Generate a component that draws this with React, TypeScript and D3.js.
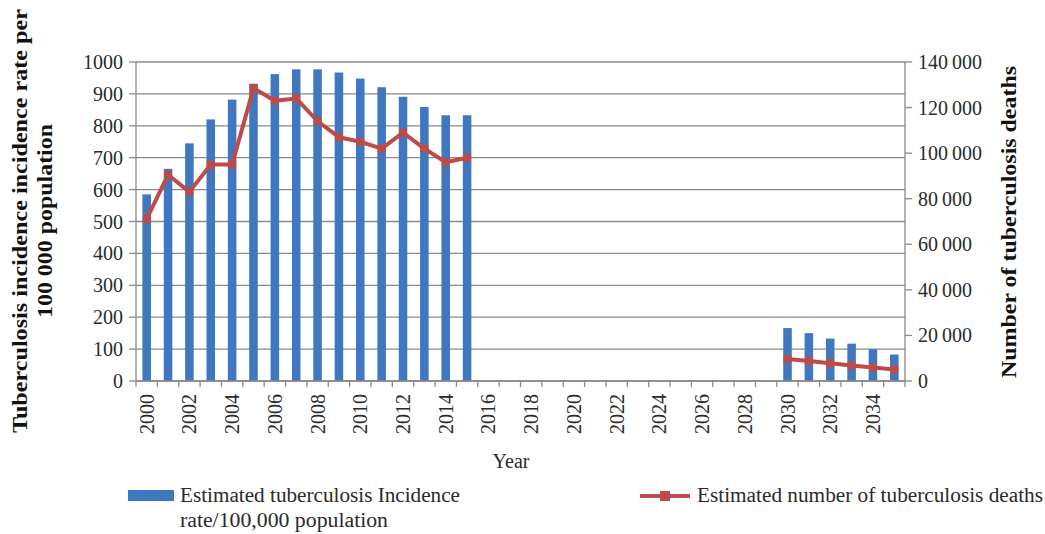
import * as d3 from 'd3';

// years on the category axis
const years: number[] = [
  2000, 2001, 2002, 2003, 2004, 2005, 2006, 2007, 2008, 2009, 2010, 2011,
  2012, 2013, 2014, 2015, 2016, 2017, 2018, 2019, 2020, 2021, 2022, 2023,
  2024, 2025, 2026, 2027, 2028, 2029, 2030, 2031, 2032, 2033, 2034, 2035,
];

// incidence rate per 100 000 (bars, left axis)
const incidence: (number | null)[] = [
  585, 665, 745, 820, 882, 932, 962, 977, 977, 967, 948, 921, 891, 859, 833, 833,
  null, null, null, null, null, null, null, null, null, null, null, null, null, null,
  166, 150, 133, 117, 100, 83,
];

// number of deaths (line, right axis)
const deaths: (number | null)[] = [
  71000, 90500, 83000, 95000, 95000, 128500, 123000, 124000, 114000, 107000,
  105000, 102000, 109000, 102000, 96000, 98000,
  null, null, null, null, null, null, null, null, null, null, null, null, null, null,
  9700, 8800, 7800, 6800, 5900, 5000,
];

const leftTicks = [0, 100, 200, 300, 400, 500, 600, 700, 800, 900, 1000];
const rightTicks = [0, 20000, 40000, 60000, 80000, 100000, 120000, 140000];

const W = 1045;
const H = 534;
const FONT = "'Liberation Serif', 'DejaVu Serif', serif";
const BLUE = '#3f78bf';
const RED = '#be4b48';
const GRID = '#8a8a8a';
const TXT = '#2a2a2a';

export default function App() {
  const left = 136;
  const right = 905;
  const top = 62;
  const bottom = 381;

  const x = d3.scaleBand<number>().domain(years).range([left, right]).padding(0);
  const yL = d3.scaleLinear().domain([0, 1000]).range([bottom, top]);
  const yR = d3.scaleLinear().domain([0, 140000]).range([bottom, top]);
  const barW = x.bandwidth() * 0.4;
  const cx = (yr: number) => (x(yr) as number) + x.bandwidth() / 2;

  const fmtR = (v: number) => d3.format(',')(v).replace(/,/g, '\u2009');

  const line = d3
    .line<number | null>()
    .defined((d) => d != null)
    .x((_, i) => cx(years[i]))
    .y((d) => yR(d as number));

  const markerSize = 8;

  return (
    <svg
      width={W}
      height={H}
      style={{ position: 'absolute', left: 0, top: 0, background: '#fff', fontFamily: FONT }}
    >
      {/* gridlines */}
      {leftTicks.map((t) => (
        <line key={'g' + t} x1={left} x2={right} y1={yL(t)} y2={yL(t)} stroke={GRID} strokeWidth={1.3} />
      ))}

      {/* bars */}
      {years.map((yr, i) =>
        incidence[i] == null ? null : (
          <rect
            key={'b' + yr}
            x={cx(yr) - barW / 2}
            y={yL(incidence[i] as number)}
            width={barW}
            height={bottom - yL(incidence[i] as number)}
            fill={BLUE}
          />
        )
      )}

      {/* axes */}
      <line x1={left} x2={left} y1={top} y2={bottom} stroke={GRID} strokeWidth={1.3} />
      <line x1={right} x2={right} y1={top} y2={bottom} stroke={GRID} strokeWidth={1.3} />
      <line x1={left} x2={right} y1={bottom} y2={bottom} stroke={GRID} strokeWidth={1.3} />

      {leftTicks.map((t) => (
        <g key={'lt' + t}>
          <line x1={left - 7} x2={left} y1={yL(t)} y2={yL(t)} stroke={GRID} strokeWidth={1.3} />
          <text x={left - 13} y={yL(t)} textAnchor="end" dominantBaseline="central" fontSize={20} fill={TXT}>
            {t}
          </text>
        </g>
      ))}
      {rightTicks.map((t) => (
        <g key={'rt' + t}>
          <line x1={right} x2={right + 7} y1={yR(t)} y2={yR(t)} stroke={GRID} strokeWidth={1.3} />
          <text x={right + 13} y={yR(t)} textAnchor="start" dominantBaseline="central" fontSize={20} fill={TXT}>
            {fmtR(t)}
          </text>
        </g>
      ))}
      {years.map((yr) => (
        <line
          key={'xt' + yr}
          x1={x(yr) as number}
          x2={x(yr) as number}
          y1={bottom}
          y2={bottom + 6}
          stroke={GRID}
          strokeWidth={1.3}
        />
      ))}
      <line x1={right} x2={right} y1={bottom} y2={bottom + 6} stroke={GRID} strokeWidth={1.3} />
      {years
        .filter((yr) => yr % 2 === 0)
        .map((yr) => (
          <text
            key={'xl' + yr}
            transform={`translate(${cx(yr)},${bottom + 13}) rotate(-90)`}
            textAnchor="end"
            dominantBaseline="central"
            fontSize={20}
            fill={TXT}
          >
            {yr}
          </text>
        ))}

      {/* deaths line */}
      <path d={line(deaths) || ''} fill="none" stroke={RED} strokeWidth={4} strokeLinejoin="round" />
      {years.map((yr, i) =>
        deaths[i] == null ? null : (
          <rect
            key={'m' + yr}
            x={cx(yr) - markerSize / 2}
            y={yR(deaths[i] as number) - markerSize / 2}
            width={markerSize}
            height={markerSize}
            fill={RED}
          />
        )
      )}

      {/* axis titles */}
      <text
        transform="translate(27,221) rotate(-90)"
        textAnchor="middle"
        fontSize={21}
        fontWeight="bold"
        fill="#111"
      >
        <tspan x={0} dy={0} textLength={424} lengthAdjust="spacingAndGlyphs">
          Tuberculosis incidence incidence rate per
        </tspan>
        <tspan x={0} dy={25} textLength={194} lengthAdjust="spacingAndGlyphs">
          100 000 population
        </tspan>
      </text>
      <text
        transform="translate(1016,222) rotate(-90)"
        textAnchor="middle"
        fontSize={21}
        fontWeight="bold"
        fill="#111"
        textLength={312}
        lengthAdjust="spacingAndGlyphs"
      >
        Number of tuberculosis deaths
      </text>
      <text x={511} y={468} textAnchor="middle" fontSize={20} fill={TXT}>
        Year
      </text>

      {/* legend */}
      <rect x={128} y={490} width={46} height={11} fill={BLUE} />
      <text x={180} y={502} fontSize={20} fill={TXT} textLength={280} lengthAdjust="spacingAndGlyphs">
        Estimated tuberculosis Incidence
      </text>
      <text x={180} y={527} fontSize={20} fill={TXT} textLength={208} lengthAdjust="spacingAndGlyphs">
        rate/100,000 population
      </text>
      <line x1={640} x2={690} y1={496} y2={496} stroke={RED} strokeWidth={4} />
      <rect x={660} y={491} width={10} height={10} fill={RED} />
      <text x={697} y={502} fontSize={20} fill={TXT} textLength={346} lengthAdjust="spacingAndGlyphs">
        Estimated number of tuberculosis deaths
      </text>
    </svg>
  );
}
